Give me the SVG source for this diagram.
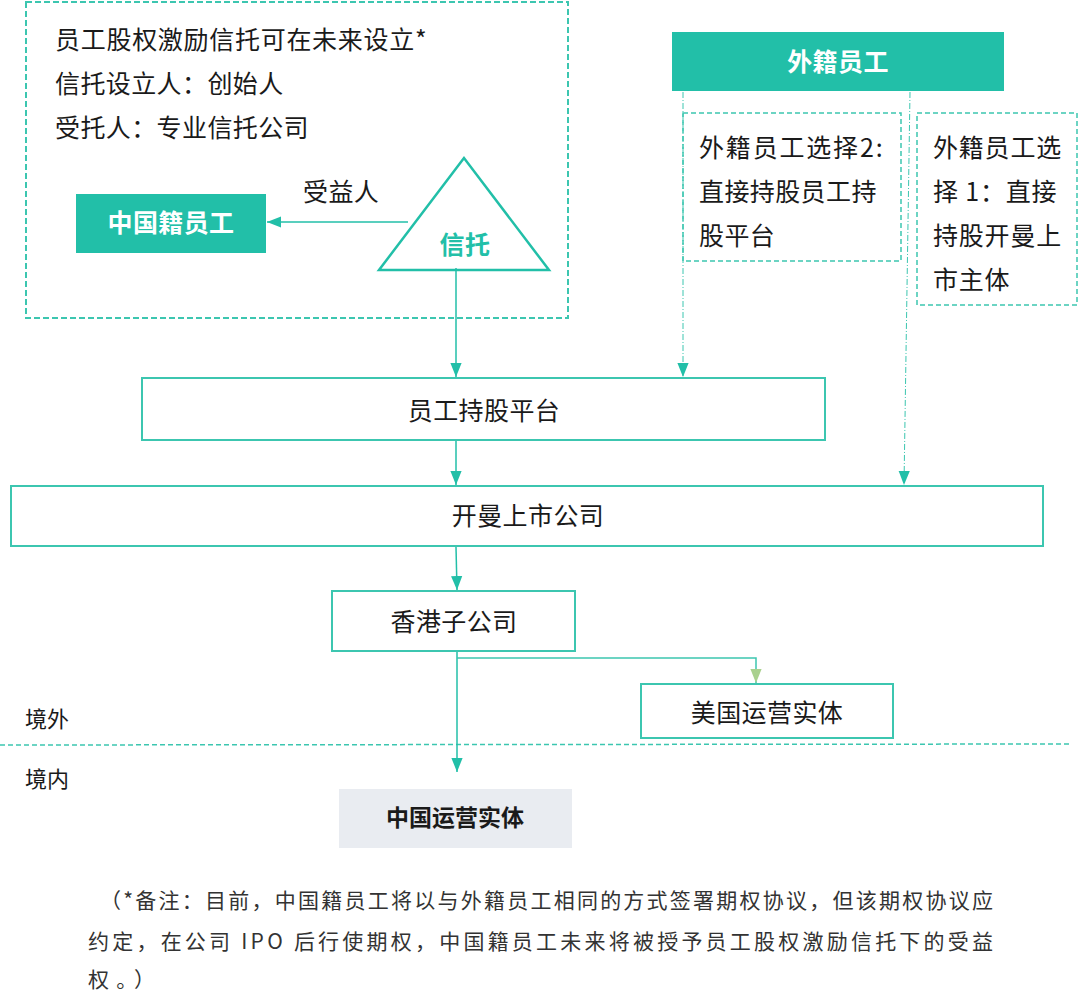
<svg xmlns="http://www.w3.org/2000/svg" width="1080" height="1008" viewBox="0 0 1080 1008">
<style>
text{font-family:"Noto Sans CJK SC","Noto Sans",sans-serif;fill:#1a1a1a}
.t24{font-size:25px;letter-spacing:0.4px}
.b{font-weight:bold}
.w{fill:#ffffff}
.tl{fill:#22BFA8}
.mid{text-anchor:middle}
.box{fill:#ffffff;stroke:#3CC6B0;stroke-width:2}
.fill{fill:#22BFA8}
.dbox{fill:none;stroke:#3CC6B0;stroke-width:2;stroke-dasharray:6 3}
.dbox2{fill:none;stroke:#3CC6B0;stroke-width:1.5;stroke-dasharray:5 3}
.ln{stroke:#22BFA8;stroke-width:1.5;fill:none}
.dd{stroke:#3CC6B0;stroke-width:1;fill:none;stroke-dasharray:6 2 1 2}
.note{font-size:21px;fill:#333333}
</style>
<defs>
<marker id="ahL" viewBox="0 0 10 10" refX="10" refY="5" markerWidth="14" markerHeight="14" markerUnits="userSpaceOnUse" orient="auto"><path d="M0,1 L10,5 L0,9 z" fill="#22BFA8"/></marker>
<marker id="ahG" viewBox="0 0 10 10" refX="10" refY="5" markerWidth="14" markerHeight="14" markerUnits="userSpaceOnUse" orient="auto"><path d="M0,1 L10,5 L0,9 z" fill="#A9D18E"/></marker>
</defs>

<g id="trust-area">
<rect class="dbox" x="26" y="2" width="542" height="316"/>
<text class="t24" x="55" y="49" textLength="372" lengthAdjust="spacing">员工股权激励信托可在未来设立*</text>
<text class="t24" x="55" y="93">信托设立人：创始人</text>
<text class="t24" x="55" y="137">受托人：专业信托公司</text>
<text class="t24" x="303" y="201">受益人</text>
</g>

<g id="cn-employee">
<rect class="fill" x="76" y="194" width="190" height="59"/>
<text class="t24 b w mid" x="171" y="232">中国籍员工</text>
</g>

<g id="trust">
<polygon points="464,158 379,270 549,270" fill="#ffffff" stroke="#22BFA8" stroke-width="2.5"/>
<text class="t24 b tl mid" x="465" y="254">信托</text>
</g>

<g id="foreign-employee">
<rect class="fill" x="672" y="32" width="332" height="59"/>
<text class="t24 b w mid" x="838" y="71">外籍员工</text>
</g>

<g id="option2">
<rect class="dbox2" x="683" y="113" width="218" height="148"/>
<text class="t24" x="699" y="157" textLength="184" lengthAdjust="spacing">外籍员工选择2:</text>
<text class="t24" x="699" y="201">直接持股员工持</text>
<text class="t24" x="699" y="245">股平台</text>
</g>

<g id="option1">
<rect class="dbox2" x="917" y="113" width="160" height="192"/>
<text class="t24" x="933" y="157" style="letter-spacing:0.8px">外籍员工选</text>
<text class="t24" x="933" y="201" style="letter-spacing:0.8px">择 1：直接</text>
<text class="t24" x="933" y="245" style="letter-spacing:0.8px">持股开曼上</text>
<text class="t24" x="933" y="289" style="letter-spacing:0.8px">市主体</text>
</g>

<g id="esop-platform">
<rect class="box" x="142" y="378" width="683" height="62"/>
<text class="t24 mid" x="484" y="420">员工持股平台</text>
</g>

<g id="cayman">
<rect class="box" x="11" y="486" width="1032" height="60"/>
<text class="t24 mid" x="528" y="525">开曼上市公司</text>
</g>

<g id="hk">
<rect class="box" x="332" y="591" width="243" height="60"/>
<text class="t24 mid" x="454" y="631">香港子公司</text>
</g>

<g id="us">
<rect class="box" x="641" y="684" width="252" height="54"/>
<text class="t24 mid" x="767" y="722">美国运营实体</text>
</g>

<g id="cn-entity">
<rect x="339" y="789" width="233" height="59" fill="#E9ECF1"/>
<text class="b mid" font-size="23" x="455" y="826">中国运营实体</text>
</g>

<g id="border">
<line x1="0" y1="745" x2="1072" y2="744" stroke="#3CC6B0" stroke-width="1.5" stroke-dasharray="5 3"/>
<text font-size="22" x="25" y="727">境外</text>
<text font-size="22" x="25" y="787">境内</text>
</g>

<g id="connectors">
<line class="ln" x1="408" y1="222" x2="267" y2="222" marker-end="url(#ahL)"/>
<line class="ln" x1="456" y1="268" x2="456" y2="377" marker-end="url(#ahL)"/>
<line class="dd" x1="683" y1="92" x2="683" y2="377" marker-end="url(#ahL)"/>
<line class="dd" x1="910" y1="92" x2="904" y2="485" marker-end="url(#ahL)"/>
<line class="ln" x1="456" y1="441" x2="456" y2="485" marker-end="url(#ahL)"/>
<line class="ln" x1="456" y1="547" x2="457" y2="590" marker-end="url(#ahL)"/>
<line class="ln" x1="457" y1="652" x2="457" y2="772" marker-end="url(#ahL)"/>
<polyline fill="none" stroke="#3CC6B0" stroke-width="1.5" points="457,658 756,658 756,683" marker-end="url(#ahG)"/>
</g>

<g id="footnote">
<text class="note" x="100" y="908" textLength="893" lengthAdjust="spacing">（*备注：目前，中国籍员工将以与外籍员工相同的方式签署期权协议，但该期权协议应</text>
<text class="note" x="88" y="949" textLength="905" lengthAdjust="spacing">约定，在公司 IPO 后行使期权，中国籍员工未来将被授予员工股权激励信托下的受益</text>
<text class="note" x="88" y="987" textLength="67" lengthAdjust="spacing">权。）</text>
</g>
</svg>
